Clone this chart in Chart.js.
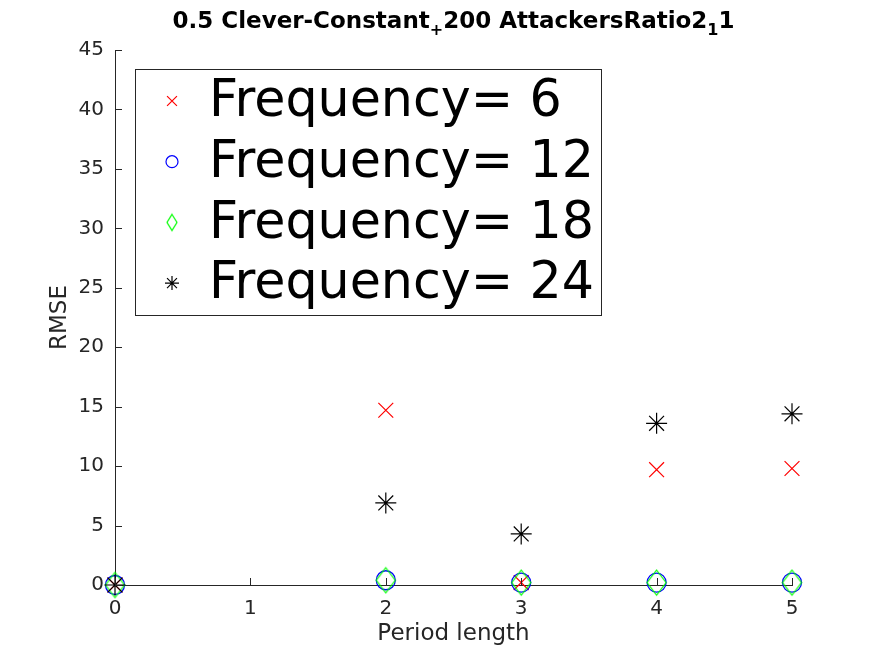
<!DOCTYPE html>
<html>
<head>
<meta charset="utf-8">
<script src="https://cdn.jsdelivr.net/npm/chart.js@4.4.1/dist/chart.umd.min.js"></script>
<style>
  html, body { margin: 0; padding: 0; background: #fff; }
  #wrap { width: 875px; height: 656px; }
</style>
</head>
<body>
<div id="wrap"><canvas id="chart"></canvas></div>
<script>
// values
const periodLength = [0, 2, 3, 4, 5];
const freq6  = [0, 14.7, 0.2, 9.7, 9.8];
const freq12 = [0, 0.4, 0.2, 0.2, 0.2];
const freq18 = [0, 0.4, 0.2, 0.2, 0.2];
const freq24 = [0, 6.9, 4.3, 13.6, 14.4];
const seriesLabels = ['Frequency= 6', 'Frequency= 12', 'Frequency= 18', 'Frequency= 24'];
const xTicks = [0, 1, 2, 3, 4, 5];
const yTicks = [0, 5, 10, 15, 20, 25, 30, 35, 40, 45];
// [text, isSubscript]
const titleParts = [['0.5 Clever-Constant', false], ['+', true], ['200 AttackersRatio2', false], ['1', true], ['1', false]];

const FONT = '"DejaVu Sans", Verdana, sans-serif';
const AXIS = '#262626';

function points(ys) {
  return periodLength.map((x, i) => ({x: x, y: ys[i]}));
}

// MATLAB diamond is taller than wide, so draw it on a small canvas
function makeDiamond(w, h, color, lw) {
  const c = document.createElement('canvas');
  c.width = w + 4; c.height = h + 4;
  const g = c.getContext('2d');
  g.strokeStyle = color; g.lineWidth = lw;
  const cx = c.width / 2, cy = c.height / 2;
  g.beginPath();
  g.moveTo(cx, cy - h / 2);
  g.lineTo(cx + w / 2, cy);
  g.lineTo(cx, cy + h / 2);
  g.lineTo(cx - w / 2, cy);
  g.closePath();
  g.stroke();
  return c;
}
const diamondPlot = makeDiamond(19, 25, '#00ff00', 1.2);
const diamondLegend = makeDiamond(10, 16, '#00ff00', 1.2);

// legend marker look per dataset
const legendMarks = [
  {pointStyle: 'crossRot', radius: 7},
  {pointStyle: 'circle', radius: 6},
  {pointStyle: diamondLegend, radius: 8},
  {pointStyle: 'star', radius: 7}
];

const inwardTicks = {
  id: 'inwardTicks',
  afterDatasetsDraw(chart) {
    const ctx = chart.ctx, a = chart.chartArea;
    const xs = chart.scales.x, ys = chart.scales.y;
    ctx.save();
    ctx.strokeStyle = AXIS; ctx.lineWidth = 1;
    ctx.beginPath();
    xTicks.forEach(v => {
      const px = Math.round(xs.getPixelForValue(v)) + 0.5;
      ctx.moveTo(px, a.bottom); ctx.lineTo(px, a.bottom - 7);
    });
    yTicks.forEach(v => {
      const py = Math.round(ys.getPixelForValue(v)) + 0.5;
      ctx.moveTo(a.left, py); ctx.lineTo(a.left + 7, py);
    });
    ctx.stroke();
    ctx.restore();
  }
};

const boxedLegend = {
  id: 'boxedLegend',
  afterDraw(chart) {
    const ctx = chart.ctx, a = chart.chartArea;
    const left = a.left + 20, top = a.top + 19, w = 466, h = 246;
    ctx.save();
    ctx.fillStyle = '#fff';
    ctx.fillRect(left, top, w, h);
    ctx.strokeStyle = AXIS; ctx.lineWidth = 1;
    ctx.strokeRect(left + 0.5, top + 0.5, w, h);
    ctx.font = '50.7px ' + FONT;
    ctx.textBaseline = 'middle';
    ctx.textAlign = 'left';
    chart.data.datasets.forEach((ds, i) => {
      const y = top + 32 + i * 60.7;
      const m = legendMarks[i];
      ctx.strokeStyle = ds.borderColor;
      ctx.fillStyle = 'rgba(0,0,0,0)';
      ctx.lineWidth = 1.2;
      Chart.helpers.drawPoint(ctx, {pointStyle: m.pointStyle, radius: m.radius, borderWidth: 1.2, rotation: 0}, left + 37, y);
      ctx.fillStyle = '#000';
      ctx.fillText(ds.label, left + 74, y + 2);
    });
    ctx.restore();
  }
};

const subTitle = {
  id: 'subTitle',
  afterDraw(chart) {
    const ctx = chart.ctx, a = chart.chartArea;
    const mainFont = 'bold 23px ' + FONT, subFont = 'bold 16px ' + FONT;
    ctx.save();
    let total = 0;
    titleParts.forEach(p => { ctx.font = p[1] ? subFont : mainFont; total += ctx.measureText(p[0]).width; });
    let x = (a.left + a.right) / 2 - total / 2;
    ctx.fillStyle = '#000';
    ctx.textAlign = 'left';
    ctx.textBaseline = 'alphabetic';
    titleParts.forEach(p => {
      ctx.font = p[1] ? subFont : mainFont;
      ctx.fillText(p[0], x, p[1] ? 35 : 28);
      x += ctx.measureText(p[0]).width;
    });
    ctx.restore();
  }
};

new Chart('chart', {
  type: 'scatter',
  data: {
    datasets: [
      {label: seriesLabels[0], data: points(freq6), pointStyle: 'crossRot', pointRadius: 10.5, clip: false,
       borderColor: '#ff0000', backgroundColor: 'rgba(0,0,0,0)', pointBorderWidth: 1.2, order: 4},
      {label: seriesLabels[1], data: points(freq12), pointStyle: 'circle', pointRadius: 9.5, clip: false,
       borderColor: '#0000ff', backgroundColor: 'rgba(0,0,0,0)', pointBorderWidth: 1.3, order: 3},
      {label: seriesLabels[2], data: points(freq18), pointStyle: diamondPlot, pointRadius: 10, clip: false,
       borderColor: '#00ff00', backgroundColor: 'rgba(0,0,0,0)', pointBorderWidth: 1.2, order: 2},
      {label: seriesLabels[3], data: points(freq24), pointStyle: 'star', pointRadius: 10.5, clip: false,
       borderColor: '#000000', backgroundColor: 'rgba(0,0,0,0)', pointBorderWidth: 1.2, order: 1}
    ]
  },
  options: {
    responsive: true,
    maintainAspectRatio: false,
    animation: false,
    events: [],
    layout: {padding: {top: 50, right: 83, left: 0, bottom: 0}},
    plugins: {legend: {display: false}, tooltip: {enabled: false}, title: {display: false}},
    scales: {
      x: {
        type: 'linear', position: 'bottom', min: 0, max: 5,
        afterBuildTicks: s => { s.ticks = xTicks.map(v => ({value: v})); },
        afterFit: s => { s.height = 71; },
        grid: {display: true, drawOnChartArea: false, drawTicks: false},
        border: {display: true, color: AXIS, width: 1},
        ticks: {color: AXIS, padding: 12, font: {family: FONT, size: 20}, maxRotation: 0},
        title: {display: true, text: 'Period length', color: AXIS,
                font: {family: FONT, size: 23}, padding: {top: 8, bottom: 8}}
      },
      y: {
        type: 'linear', min: 0, max: 45,
        afterBuildTicks: s => { s.ticks = yTicks.map(v => ({value: v})); },
        afterFit: s => { s.width = 115; },
        grid: {display: true, drawOnChartArea: false, drawTicks: false},
        border: {display: true, color: AXIS, width: 1},
        ticks: {color: AXIS, padding: 11, font: {family: FONT, size: 20}},
        title: {display: true, text: 'RMSE', color: AXIS,
                font: {family: FONT, size: 23}, padding: {top: 46, bottom: 46}}
      }
    }
  },
  plugins: [inwardTicks, boxedLegend, subTitle]
});
</script>
</body>
</html>
